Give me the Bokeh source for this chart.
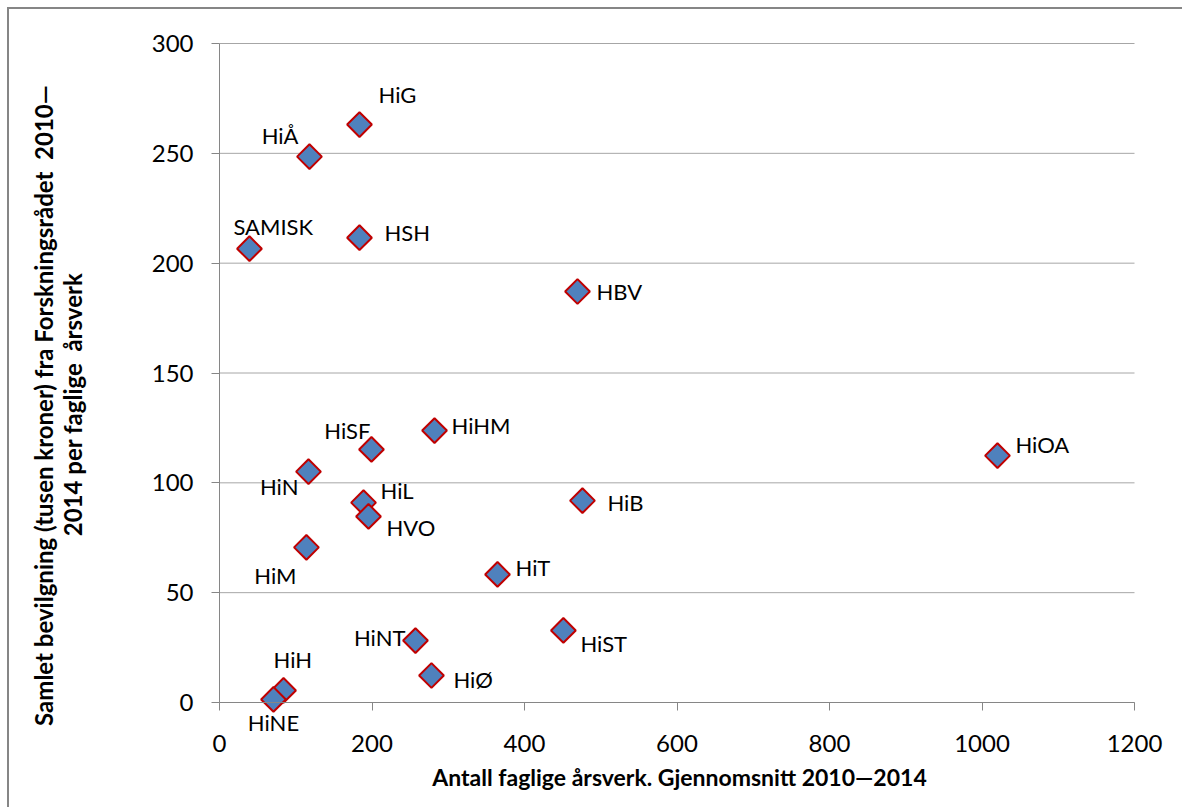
import math
from bokeh.plotting import figure
from bokeh.models import Label, FixedTicker, ColumnDataSource, InlineStyleSheet
from bokeh.embed import file_html
from bokeh.resources import INLINE

# Institutions: average academic FTEs 2010-2014 vs. funding from the Research Council per FTE
names = ["HiG", "HiÅ", "SAMISK", "HSH", "HBV", "HiHM", "HiSF", "HiN", "HiL", "HVO",
         "HiM", "HiT", "HiB", "HiOA", "HiST", "HiNT", "HiØ", "HiH", "HiNE"]
aarsverk = [183.6, 118.0, 39.3, 183.6, 469.5, 282.0, 199.3, 116.7, 188.9, 195.4,
            114.0, 364.6, 476.0, 1020.3, 451.0, 257.0, 278.0, 84.0, 70.8]
bevilgning = [263.1, 248.5, 206.6, 211.6, 187.1, 123.8, 115.2, 105.1, 91.0, 84.7,
              70.6, 58.3, 91.9, 112.4, 32.8, 28.2, 12.3, 5.5, 1.4]

x_ticks = [0, 200, 400, 600, 800, 1000, 1200]
y_ticks = [0, 50, 100, 150, 200, 250, 300]

x_title = "Antall faglige årsverk. Gjennomsnitt 2010\u20142014"
y_title_1 = "Samlet bevilgning (tusen kroner) fra Forskningsrådet \u00a02010\u2014"
y_title_2 = "2014 per faglige \u00a0årsverk"

# label placement around each marker: (dx, dy in px, dy positive = down, anchor)
label_place = {
    "HiG": (19, -30, "left"), "HiÅ": (-11, -21, "right"), "SAMISK": (-16, -22, "left"),
    "HSH": (25, -5, "left"), "HBV": (19, 0, "left"), "HiHM": (17, -5, "left"),
    "HiSF": (-1, -19, "right"), "HiN": (-10, 15, "right"), "HiL": (17, -12, "left"),
    "HVO": (18, 11, "left"), "HiM": (-10, 28, "right"), "HiT": (18, -7, "left"),
    "HiB": (25, 2, "left"), "HiOA": (18, -11, "left"), "HiST": (17, 13, "left"),
    "HiNT": (-10, -3, "right"), "HiØ": (22, 4, "left"), "HiH": (-10, -31, "left"),
    "HiNE": (0, 23, "center"),
}

W, H = 1182, 807
# plot area in canvas pixels: x 0..1200 spans 219..1134, y 0..300 spans 702..43
PX_L, PX_R, PX_T, PX_B = 219, 1134, 43, 702
X_MIN, X_MAX, Y_MIN, Y_MAX = 0, 1200, 0, 300
sx = (PX_R - PX_L) / (X_MAX - X_MIN)
sy = (PX_B - PX_T) / (Y_MAX - Y_MIN)
x_range = (X_MIN - PX_L / sx, X_MAX + (W - PX_R) / sx)
y_range = (Y_MIN - (H - PX_B) / sy, Y_MAX + PX_T / sy)

FONT = "Lato"
AXIS_GREY = "#868686"
GRID_GREY = "#a6a6a6"

p = figure(width=W, height=H, x_range=x_range, y_range=y_range, title=None,
           output_backend="svg", toolbar_location=None, min_border=0)
p.outline_line_color = None
p.background_fill_color = "white"
p.border_fill_color = "white"
p.xgrid.visible = False
p.ygrid.visible = False

for ax, bnds in ((p.xaxis[0], (X_MIN, X_MAX)), (p.yaxis[0], (Y_MIN, Y_MAX))):
    ax.fixed_location = 0
    ax.bounds = bnds
    ax.axis_line_color = AXIS_GREY
    ax.major_tick_line_color = AXIS_GREY
    ax.minor_tick_line_color = None
    ax.major_tick_in = 0
    ax.major_tick_out = 8
    ax.major_label_text_font = FONT
    ax.major_label_text_font_size = "24px"
    ax.major_label_text_color = "black"

p.xaxis.ticker = FixedTicker(ticks=x_ticks)
p.yaxis.ticker = FixedTicker(ticks=y_ticks)
p.xaxis.major_label_standoff = 24
p.yaxis.major_label_standoff = 18

# horizontal gridlines across the plot area
p.segment(x0=[X_MIN] * len(y_ticks), x1=[X_MAX] * len(y_ticks), y0=y_ticks, y1=y_ticks,
          line_color=GRID_GREY, line_width=1)

src = ColumnDataSource(dict(x=aarsverk, y=bevilgning, name=names))
p.scatter("x", "y", source=src, marker="square", size=17.5, angle=math.pi / 4,
          fill_color="#4f81bd", line_color="#c00000", line_width=2)

for nm, xv, yv in zip(names, aarsverk, bevilgning):
    dx, dy, anchor = label_place[nm]
    p.add_layout(Label(x=xv, y=yv, x_offset=dx, y_offset=-dy, text=nm,
                       text_align=anchor, text_baseline="middle",
                       text_font=FONT, text_font_size="22px", text_color="black"))

# axis titles, positioned in canvas pixels (screen y counts up from the bottom)
p.add_layout(Label(x=679, y=H - 776, x_units="screen", y_units="screen", text=x_title,
                   text_align="center", text_baseline="middle", text_font=FONT,
                   text_font_style="bold", text_font_size="23px", text_color="black"))
for txt, cx, cy in ((y_title_1, 43, 405), (y_title_2, 72, 404)):
    p.add_layout(Label(x=cx, y=H - cy, x_units="screen", y_units="screen", text=txt,
                       angle=math.pi / 2, text_align="center", text_baseline="middle",
                       text_font=FONT, text_font_style="bold", text_font_size="24px",
                       text_color="black"))

# chart area border (left and top edges visible)
p.stylesheets = [InlineStyleSheet(css="""
:host { position: relative; }
:host::after {
  content: ""; position: absolute; left: 7px; top: 7px; right: 0; bottom: 0;
  border-left: 2px solid #868686; border-top: 2px solid #868686;
  pointer-events: none;
}
""")]

open("out.html", "w").write(file_html(p, INLINE))
